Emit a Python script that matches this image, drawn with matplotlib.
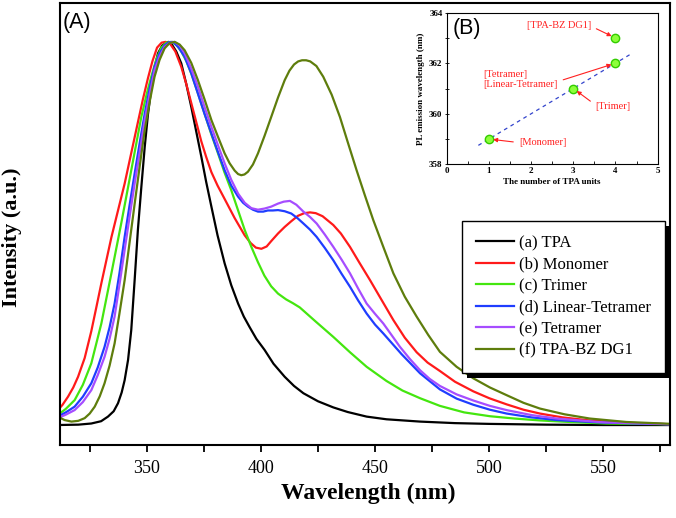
import matplotlib
matplotlib.use("Agg")
import matplotlib.pyplot as plt
from matplotlib.patches import Rectangle
from matplotlib.transforms import IdentityTransform
from matplotlib.ticker import MultipleLocator, NullLocator

# PL spectra (normalised intensity)
tpa_wl = [311, 320, 325.7, 330, 333, 335.5, 337.4, 339, 340.3, 341.8, 343.2, 344.7, 346.1, 347.6,
          349.1, 350.5, 352, 353.5, 354.9, 356.7, 358.5, 359.5, 360.7, 362.9, 365.1, 367.3, 369.5,
          371.7, 373.9, 376, 378.3, 381, 384.1, 387, 390, 392.5, 395, 398, 401.6, 405.5, 410.4,
          414.5, 418.6, 425, 431.7, 438, 446.3, 455, 469.7, 485, 500, 525, 550, 580]
tpa_int = [0.0, 0.001, 0.004, 0.01, 0.022, 0.036, 0.057, 0.085, 0.117, 0.17, 0.248, 0.38, 0.509, 0.62,
           0.726, 0.81, 0.88, 0.935, 0.97, 0.99, 0.998, 1.0, 0.996, 0.975, 0.944, 0.89, 0.83,
           0.765, 0.70, 0.635, 0.57, 0.495, 0.422, 0.365, 0.317, 0.283, 0.256, 0.225, 0.196, 0.16, 0.126,
           0.102, 0.083, 0.062, 0.046, 0.034, 0.022, 0.015, 0.009, 0.005, 0.003, 0.001, 0.0, 0.0]

mono_wl = [311, 313, 315.5, 317.8, 319.9, 322.8, 325.7, 328, 330.1, 332.3, 334.5, 337.4, 340.3,
           343.2, 346.1, 348.3, 350.5, 352.5, 354.5, 356.5, 358.2, 360.2, 362.5, 365.1, 367.3, 369.5,
           371.7, 373.9, 376, 378.3, 381, 384.1, 388.5, 392.9, 395.5, 397.8, 400.2, 402.5, 404.5,
           407.5, 410.4, 413.3, 416.2, 419, 421.5, 424, 427, 431.7, 435, 439, 443, 447.8, 452.5, 458,
           463, 468.2, 473, 478.4, 485, 493, 500, 507.6, 515, 522.2, 532, 544, 560, 580]
mono_int = [0.039, 0.052, 0.074, 0.098, 0.126, 0.175, 0.245, 0.31, 0.37, 0.43, 0.49, 0.56, 0.63,
            0.71, 0.79, 0.85, 0.905, 0.95, 0.985, 0.998, 1.0, 0.995, 0.975, 0.935, 0.89, 0.84,
            0.79, 0.74, 0.70, 0.66, 0.625, 0.59, 0.54, 0.495, 0.475, 0.463, 0.46, 0.466, 0.48,
            0.5, 0.517, 0.532, 0.546, 0.553, 0.555, 0.553, 0.545, 0.522, 0.5, 0.465, 0.425, 0.378, 0.33, 0.274,
            0.228, 0.19, 0.163, 0.141, 0.113, 0.088, 0.07, 0.054, 0.04, 0.03, 0.02, 0.012, 0.006, 0.002]

tri_wl = [311, 314.5, 318.4, 322, 325.7, 330.1, 334.5, 338.8, 343.2, 347.6, 350, 352, 354.2, 356.4,
          358.5, 360.7, 363, 365.1, 367.3, 369.5, 372.4, 375.3, 378.2, 381.2, 384, 387, 390, 392.9,
          395.8, 398.7, 401.5, 404.5, 407.5, 411, 414, 417, 424, 431.7, 439, 446.3, 455, 462, 469.7,
          478.4, 489, 500.3, 511, 522.2, 535, 551.4, 565, 580]
tri_int = [0.026, 0.042, 0.065, 0.105, 0.161, 0.265, 0.396, 0.526, 0.665, 0.804, 0.865, 0.91, 0.955,
           0.985, 0.998, 1.0, 0.992, 0.975, 0.95, 0.917, 0.866, 0.813, 0.76, 0.709, 0.66, 0.613, 0.56,
           0.509, 0.465, 0.425, 0.39, 0.362, 0.343, 0.328, 0.318, 0.307, 0.27, 0.23, 0.19, 0.152, 0.115,
           0.09, 0.07, 0.05, 0.033, 0.023, 0.017, 0.012, 0.008, 0.004, 0.003, 0.002]

lin_wl = [311, 314.5, 318.4, 322, 325.7, 328.5, 331.5, 333.7, 335.9, 338, 340.3, 342.5, 344.7, 347,
          349.1, 351.3, 353.4, 355.6, 357.8, 359.7, 361.5, 364, 366.6, 369.5, 372.4, 375.3, 378.3,
          381.2, 384.1, 387, 390, 392.2, 394.3, 396.5, 398.7, 401, 403, 405.2, 407.5, 410.4, 413.3,
          416, 418.6, 421.5, 424.4, 428, 431.7, 435.3, 439, 442.6, 446.3, 450, 453.6, 461.6, 469.7,
          478.4, 485.7, 493, 500.3, 507.6, 518.5, 529.5, 547.7, 566, 580]
lin_int = [0.022, 0.033, 0.048, 0.074, 0.109, 0.15, 0.204, 0.255, 0.317, 0.395, 0.491, 0.575, 0.657,
           0.74, 0.813, 0.88, 0.935, 0.97, 0.991, 0.999, 1.0, 0.985, 0.961, 0.918, 0.865, 0.812, 0.761,
           0.712, 0.665, 0.625, 0.596, 0.58, 0.57, 0.562, 0.557, 0.557, 0.56, 0.56, 0.561, 0.558, 0.552,
           0.54, 0.526, 0.51, 0.491, 0.462, 0.43, 0.395, 0.361, 0.325, 0.291, 0.262, 0.239, 0.185, 0.135,
           0.093, 0.069, 0.053, 0.04, 0.030, 0.02, 0.013, 0.007, 0.004, 0.002]

tet_wl = [311, 314.5, 318.4, 322, 325.7, 328.5, 331.5, 333.7, 335.9, 338, 340.3, 342.5, 344.7, 347,
          349.1, 351.3, 353.4, 355.6, 357.8, 360, 362.2, 364.5, 366.6, 369.5, 372.4, 375.3, 378.3,
          381.2, 384.1, 387, 390, 392.9, 395.8, 398.7, 401.6, 404.5, 407.5, 410, 412.7, 415.5, 418.6,
          421.5, 424.4, 428, 431.7, 435.3, 439, 442.6, 446.3, 450, 453.6, 457.2, 460.9, 465.3, 469.7,
          474, 478.4, 485.7, 493, 500.3, 507.6, 518.5, 529.5, 550, 580]
tet_int = [0.018, 0.027, 0.039, 0.06, 0.091, 0.13, 0.178, 0.225, 0.283, 0.365, 0.457, 0.545, 0.631,
           0.715, 0.796, 0.865, 0.926, 0.962, 0.987, 0.997, 1.0, 0.99, 0.97, 0.93, 0.883, 0.83, 0.778,
           0.73, 0.683, 0.64, 0.604, 0.58, 0.566, 0.562, 0.565, 0.57, 0.578, 0.583, 0.585, 0.575, 0.557,
           0.543, 0.526, 0.497, 0.465, 0.432, 0.396, 0.356, 0.317, 0.29, 0.265, 0.235, 0.204, 0.172,
           0.143, 0.12, 0.102, 0.08, 0.064, 0.05, 0.039, 0.026, 0.017, 0.007, 0.002]

dg1_wl = [311, 314, 317, 320, 322.8, 325, 327.2, 329.4, 331.5, 333.7, 335.9, 338, 340.3, 342.5, 344.7,
          347, 349.1, 351.3, 353.4, 355.6, 357.8, 360, 362.2, 364.4, 366.6, 369.5, 372.4, 375.3, 378.3,
          381.2, 384.1, 386.3, 388.5, 390, 391.4, 392.8, 394.3, 396.5, 398.7, 401.6, 404.5, 407.5,
          410.4, 412.5, 414.5, 416.3, 418, 419.8, 421.6, 424.3, 427.3, 431, 434.6, 438.2, 441.9, 445.5,
          449.2, 453.6, 458, 463, 468.2, 473.3, 478.4, 485.7, 493, 500.3, 507.6, 515, 522.2, 533, 544,
          560, 580]
dg1_int = [0.022, 0.013, 0.009, 0.011, 0.018, 0.03, 0.048, 0.075, 0.109, 0.155, 0.213, 0.29, 0.378,
           0.478, 0.578, 0.68, 0.77, 0.845, 0.909, 0.953, 0.983, 0.997, 1.0, 0.993, 0.978, 0.945, 0.9,
           0.85, 0.796, 0.752, 0.709, 0.683, 0.664, 0.655, 0.652, 0.654, 0.661, 0.68, 0.709, 0.755,
           0.804, 0.855, 0.9, 0.925, 0.941, 0.949, 0.952, 0.952, 0.949, 0.937, 0.909, 0.862, 0.804,
           0.735, 0.665, 0.6, 0.535, 0.465, 0.396, 0.335, 0.283, 0.235, 0.191, 0.152, 0.122, 0.098,
           0.078, 0.058, 0.043, 0.028, 0.017, 0.008, 0.003]

labels = ["(a) TPA", "(b) Monomer", "(c) Trimer", "(d) Linear-Tetramer", "(e) Tetramer", "(f) TPA-BZ DG1"]
colors = ["black", "#ff1a1a", "#44e60f", "#1f3dff", "#a64dff", "#5e7d0c"]

# inset (B): emission peak vs number of TPA units
tpa_units = [1, 3, 4, 4]
pl_peak = [359, 361, 362, 363]
fit_x = [0.75, 4.35]
fit_y = [358.75, 362.35]

plt.rcParams["font.family"] = "Liberation Serif"

fig = plt.figure(figsize=(6.76, 5.18), dpi=100)
ax = fig.add_axes([0.0888, 0.141, 0.9024, 0.8536])

series = [(tpa_wl, tpa_int), (mono_wl, mono_int), (tri_wl, tri_int),
          (lin_wl, lin_int), (tet_wl, tet_int), (dg1_wl, dg1_int)]
for (wl, it), lab, c in zip(series, labels, colors):
    ax.plot(wl, it, color=c, lw=1.6, label=lab)

ax.set_xlim(312, 579.2)
ax.set_ylim(-0.052, 1.102)
ax.xaxis.set_major_locator(MultipleLocator(50))
ax.xaxis.set_minor_locator(MultipleLocator(25))
ax.yaxis.set_major_locator(NullLocator())
ax.tick_params(axis="x", which="major", direction="out", length=5, width=1.3, labelsize=13, pad=6)
ax.tick_params(axis="x", which="minor", direction="out", length=5, width=1.3)
for s in ax.spines.values():
    s.set_linewidth(1.5)

ax.set_xlabel("Wavelength (nm)", fontsize=17, fontweight="bold")
ax.set_ylabel("Intensity (a.u.)", fontsize=16, fontweight="bold")
ax.xaxis.set_label_coords(0.505, -0.085)
ax.yaxis.set_label_coords(-0.062, 0.47)

ax.text(0.005, 0.979, "(A)", transform=ax.transAxes, fontsize=15.5, family="Liberation Sans",
        ha="left", va="top")

leg = ax.legend(loc="upper left", bbox_to_anchor=(0.6585, 0.507), borderaxespad=0,
                fancybox=False, edgecolor="black", framealpha=1, fontsize=12,
                handlelength=2.3, handletextpad=0.3, labelspacing=0.33, borderpad=0.85)
leg.get_frame().set_linewidth(1.0)

# inset
ax2 = fig.add_axes([0.6608, 0.6828, 0.3121, 0.2927])
ax2.plot(fit_x, fit_y, ls=(0, (3, 3)), color="#3344cc", lw=0.9)
ax2.plot(tpa_units, pl_peak, "o", ms=6, mfc="#8cff3a", mec="#33cc00", mew=1.0, ls="none")
ax2.set_xlim(0, 5)
ax2.set_ylim(358, 364)
ax2.xaxis.set_major_locator(MultipleLocator(1))
ax2.xaxis.set_minor_locator(MultipleLocator(0.5))
ax2.yaxis.set_major_locator(MultipleLocator(2))
ax2.yaxis.set_minor_locator(MultipleLocator(1))
ax2.tick_params(axis="x", which="both", direction="in", length=2.5, width=0.6, labelsize=6.5, pad=2)
ax2.tick_params(axis="y", which="both", direction="inout", length=3, width=0.6, labelsize=6.5, pad=1.5)
for t in ax2.get_xticklabels() + ax2.get_yticklabels():
    t.set_fontweight("bold")
for s in ax2.spines.values():
    s.set_linewidth(0.8)
ax2.set_xlabel("The number of TPA units", fontsize=6.5, fontweight="bold", labelpad=2)
ax2.set_ylabel("PL emission wavelength (nm)", fontsize=6.5, fontweight="bold", labelpad=3)
ax2.text(0.03, 0.965, "(B)", transform=ax2.transAxes, fontsize=15.5, family="Liberation Sans",
         ha="left", va="top")

red = "#ff2020"
arrow = dict(arrowstyle="-|>", color=red, lw=0.8, mutation_scale=6, shrinkB=3)
ax2.annotate("[TPA-BZ DG1]", xy=(4, 363), xytext=(2.66, 363.5), ha="center", va="center",
             fontsize=7.5, color=red, arrowprops=dict(arrow, relpos=(1, 0.4)))
ax2.annotate("[Tetramer]\n[Linear-Tetramer]", xy=(4, 362), xytext=(0.87, 361.35), ha="left",
             va="center", fontsize=7.5, color=red, linespacing=1.1,
             arrowprops=dict(arrow, relpos=(1, 0.4)))
ax2.annotate("[Trimer]", xy=(3, 361), xytext=(3.94, 360.28), ha="center", va="center",
             fontsize=7.5, color=red, arrowprops=dict(arrow, relpos=(0, 0.7)))
ax2.annotate("[Monomer]", xy=(1, 359), xytext=(2.27, 358.86), ha="center", va="center",
             fontsize=7.5, color=red, arrowprops=dict(arrow, relpos=(0, 0.5)))

# solid black drop shadow behind the legend box
fig.canvas.draw()
bb = leg.get_frame().get_window_extent()
shadow = Rectangle((bb.x0 + 5, bb.y0 - 5), bb.width, bb.height, transform=IdentityTransform(),
                   facecolor="black", edgecolor="none", zorder=4.9, clip_on=False)
ax.add_artist(shadow)

fig.savefig("out.png", dpi=100)
